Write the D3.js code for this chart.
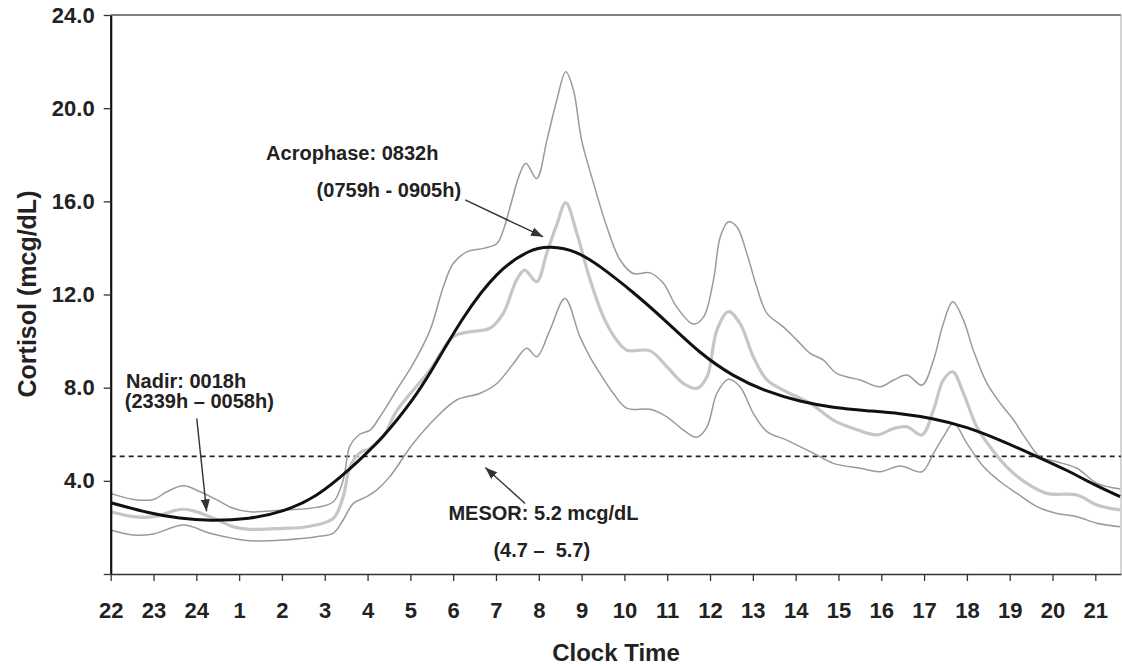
<!DOCTYPE html>
<html>
<head>
<meta charset="utf-8">
<script src="https://cdn.jsdelivr.net/npm/d3@7"></script>
<style>
  html, body { margin: 0; padding: 0; background: #fff; }
  svg { display: block; }
  text { font-family: "Liberation Sans", Arial, sans-serif; font-weight: bold; fill: #222; }
</style>
</head>
<body>
<svg id="chart" width="1122" height="668"></svg>
<script>
// x values are hours after 22:00 (0 = 22h, 23 = 21h)
const hourLabels = ["22","23","24","1","2","3","4","5","6","7","8","9","10","11","12","13","14","15","16","17","18","19","20","21"];
const yTickValues = [0, 4, 8, 12, 16, 20, 24];
const mesorLine = 5.05;

const upperBand = [[0,3.46],[0.53,3.2],[1.0,3.2],[1.31,3.53],[1.7,3.79],[2.09,3.53],[2.48,3.18],[2.86,2.82],[3.25,2.67],[4.03,2.75],[4.81,2.86],[5.2,3.1],[5.43,4.03],[5.59,5.5],[5.82,6.0],[6.06,6.18],[6.29,6.75],[6.68,7.9],[7.07,9.04],[7.46,10.47],[7.77,12.33],[8.0,13.33],[8.32,13.83],[8.71,13.98],[9.02,14.19],[9.17,14.76],[9.33,15.76],[9.56,17.2],[9.7,17.63],[9.95,16.98],[10.19,18.63],[10.42,20.34],[10.63,21.56],[10.81,20.77],[11.0,18.63],[11.28,16.77],[11.59,14.9],[11.9,13.48],[12.21,12.9],[12.6,12.93],[12.91,12.48],[13.22,11.47],[13.61,10.73],[13.85,11.04],[14.08,12.62],[14.24,14.48],[14.43,15.12],[14.63,14.9],[14.86,13.76],[15.09,12.33],[15.33,11.19],[15.71,10.61],[16.03,10.04],[16.34,9.47],[16.65,9.18],[16.96,8.61],[17.51,8.33],[17.97,8.04],[18.29,8.33],[18.6,8.54],[18.95,8.11],[19.22,9.18],[19.45,10.76],[19.67,11.69],[19.92,10.9],[20.15,9.61],[20.47,8.18],[20.78,7.33],[21.09,6.61],[21.4,5.75],[21.71,5.03],[22.1,4.82],[22.57,4.54],[23.04,3.89],[23.58,3.65]];

const meanLine = [[0,2.67],[0.53,2.46],[1.0,2.46],[1.7,2.78],[2.32,2.46],[2.86,2.03],[3.25,1.92],[4.03,1.96],[4.58,2.03],[5.2,2.39],[5.43,3.32],[5.59,4.6],[5.82,5.2],[6.06,5.4],[6.37,5.9],[6.68,7.0],[7.46,8.76],[8.0,10.19],[8.39,10.4],[8.86,10.55],[9.17,11.19],[9.48,12.62],[9.67,13.05],[9.95,12.55],[10.19,13.8],[10.42,15.0],[10.63,15.94],[10.89,14.62],[11.2,12.62],[11.51,11.04],[11.82,10.04],[12.06,9.61],[12.6,9.58],[12.99,8.9],[13.38,8.18],[13.69,7.97],[13.93,8.47],[14.16,10.47],[14.43,11.26],[14.7,10.76],[15.01,9.33],[15.33,8.33],[15.79,7.82],[16.34,7.33],[16.88,6.61],[17.35,6.25],[17.9,5.97],[18.29,6.25],[18.6,6.32],[18.95,5.97],[19.22,7.04],[19.45,8.33],[19.67,8.68],[19.92,7.76],[20.23,6.32],[20.54,5.46],[20.93,4.6],[21.4,3.89],[21.87,3.46],[22.57,3.39],[23.04,2.96],[23.58,2.75]];

const lowerBand = [[0,1.89],[0.53,1.67],[1.0,1.72],[1.7,2.1],[2.32,1.75],[2.86,1.53],[3.25,1.43],[4.03,1.46],[4.81,1.6],[5.2,1.75],[5.43,2.32],[5.67,3.03],[5.98,3.32],[6.21,3.6],[6.52,4.18],[7.07,5.61],[7.62,6.75],[8.08,7.47],[8.63,7.76],[9.02,8.18],[9.41,9.04],[9.72,9.69],[9.95,9.33],[10.26,10.47],[10.61,11.83],[10.96,10.19],[11.2,9.3],[11.43,8.61],[11.74,7.76],[12.06,7.11],[12.6,7.07],[12.99,6.75],[13.38,6.18],[13.69,5.87],[13.93,6.32],[14.16,7.76],[14.43,8.36],[14.7,8.04],[15.01,6.9],[15.33,6.11],[15.79,5.75],[16.42,5.18],[16.88,4.75],[17.51,4.54],[17.97,4.39],[18.44,4.64],[18.95,4.39],[19.22,5.18],[19.45,5.89],[19.69,6.47],[20.0,5.61],[20.39,4.6],[20.78,3.96],[21.17,3.46],[21.64,2.89],[22.1,2.6],[22.57,2.46],[23.04,2.18],[23.58,2.03]];

const cosinorFit = [[0,3.06],[0.92,2.6],[1.6,2.38],[2.32,2.28],[3.25,2.36],[4.03,2.67],[4.81,3.3],[5.59,4.5],[6.37,5.85],[7.07,7.5],[7.46,8.6],[8.24,11.1],[9.02,13.0],[9.79,13.95],[10.26,14.08],[10.89,13.87],[11.43,13.22],[12.21,12.1],[12.99,10.83],[13.76,9.47],[14.55,8.47],[15.33,7.82],[16.1,7.4],[16.88,7.14],[17.66,7.01],[18.44,6.9],[19.22,6.68],[20.0,6.32],[20.78,5.75],[21.56,5.11],[22.34,4.46],[22.96,3.84],[23.58,3.32]];

const annotations = [
  { text: "Acrophase: 0832h", h: 3.63, v: 17.77 },
  { text: "(0759h - 0905h)", h: 4.81, v: 16.2 },
  { text: "Nadir: 0018h", h: 0.36, v: 7.97 },
  { text: "(2339h \u2013 0058h)", h: 0.33, v: 7.11 },
  { text: "MESOR: 5.2 mcg/dL", h: 7.89, v: 2.32 },
  { text: "(4.7 \u2013  5.7)", h: 8.94, v: 0.74 }
];
const arrows = [
  { from: [8.28, 16.06], to: [10.1, 14.48] },
  { from: [2.01, 6.68], to: [2.24, 2.69] },
  { from: [9.68, 3.03], to: [8.75, 4.57] }
];

const svg = d3.select("#chart");
const x = d3.scaleLinear().domain([0, 23.6]).range([110.7, 1121]);
const y = d3.scaleLinear().domain([0, 24]).range([574, 15]);

// frame (top and right)
svg.append("line").attr("x1", x(0)).attr("x2", x(23.6)).attr("y1", y(24)).attr("y2", y(24))
  .attr("stroke", "#555").attr("stroke-width", 1.5);
svg.append("line").attr("x1", x(23.6)).attr("x2", x(23.6)).attr("y1", y(24)).attr("y2", y(0))
  .attr("stroke", "#aaa").attr("stroke-width", 1);

// MESOR dashed line
svg.append("line").attr("x1", x(0)).attr("x2", x(23.6)).attr("y1", y(mesorLine)).attr("y2", y(mesorLine))
  .attr("stroke", "#222").attr("stroke-width", 1.6).attr("stroke-dasharray", "5,4");

const line = d3.line().x(d => x(d[0])).y(d => y(d[1])).curve(d3.curveCatmullRom.alpha(0.5));
const smoothLine = d3.line().x(d => x(d[0])).y(d => y(d[1])).curve(d3.curveBasis);

svg.append("path").datum(upperBand).attr("d", line).attr("fill", "none").attr("stroke", "#9a9a9a").attr("stroke-width", 1.5);
svg.append("path").datum(lowerBand).attr("d", line).attr("fill", "none").attr("stroke", "#9a9a9a").attr("stroke-width", 1.5);
svg.append("path").datum(meanLine).attr("d", line).attr("fill", "none").attr("stroke", "#c6c6c6").attr("stroke-width", 3.2);
svg.append("path").datum(cosinorFit).attr("d", smoothLine).attr("fill", "none").attr("stroke", "#111").attr("stroke-width", 3);

// axes
const yAxis = svg.append("g").attr("transform", `translate(${x(0)},0)`)
  .call(d3.axisLeft(y).tickValues(yTickValues).tickSize(7).tickSizeOuter(0).tickPadding(9)
    .tickFormat(d => d === 0 ? "" : d3.format(".1f")(d)));
yAxis.select(".domain").attr("stroke", "#111").attr("stroke-width", 2.2);
yAxis.selectAll(".tick line").attr("stroke", "#333").attr("stroke-width", 1.3);
yAxis.selectAll(".tick text").style("font-size", "22px").attr("fill", "#222").attr("font-family", null);

const xAxis = svg.append("g").attr("transform", `translate(0,${y(0)})`)
  .call(d3.axisBottom(x).tickValues(d3.range(0, 24)).tickSize(7).tickSizeOuter(0).tickPadding(21)
    .tickFormat(i => hourLabels[i]));
xAxis.select(".domain").attr("stroke", "#333").attr("stroke-width", 1.5);
xAxis.selectAll(".tick line").attr("stroke", "#333").attr("stroke-width", 1.3);
xAxis.selectAll(".tick text").style("font-size", "22px").attr("fill", "#222").attr("font-family", null);

// titles
svg.append("text").attr("x", 616).attr("y", 661).attr("text-anchor", "middle")
  .style("font-size", "24px").text("Clock Time");
svg.append("text").attr("transform", "translate(36,294) rotate(-90)").attr("text-anchor", "middle")
  .style("font-size", "25px").text("Cortisol (mcg/dL)");

// annotations
svg.selectAll("text.anno").data(annotations).join("text").attr("class", "anno")
  .attr("x", d => x(d.h)).attr("y", d => y(d.v)).style("font-size", "20px")
  .style("white-space", "pre").attr("xml:space", "preserve").text(d => d.text);

// arrows
const defs = svg.append("defs");
defs.append("marker").attr("id", "arrowhead").attr("markerUnits", "userSpaceOnUse")
  .attr("markerWidth", 12).attr("markerHeight", 9).attr("refX", 12).attr("refY", 4.5)
  .attr("orient", "auto")
  .append("path").attr("d", "M0,0 L12,4.5 L0,9 Z").attr("fill", "#333");
svg.selectAll("line.arrow").data(arrows).join("line").attr("class", "arrow")
  .attr("x1", d => x(d.from[0])).attr("y1", d => y(d.from[1]))
  .attr("x2", d => x(d.to[0])).attr("y2", d => y(d.to[1]))
  .attr("stroke", "#333").attr("stroke-width", 1.4).attr("marker-end", "url(#arrowhead)");
</script>
</body>
</html>
